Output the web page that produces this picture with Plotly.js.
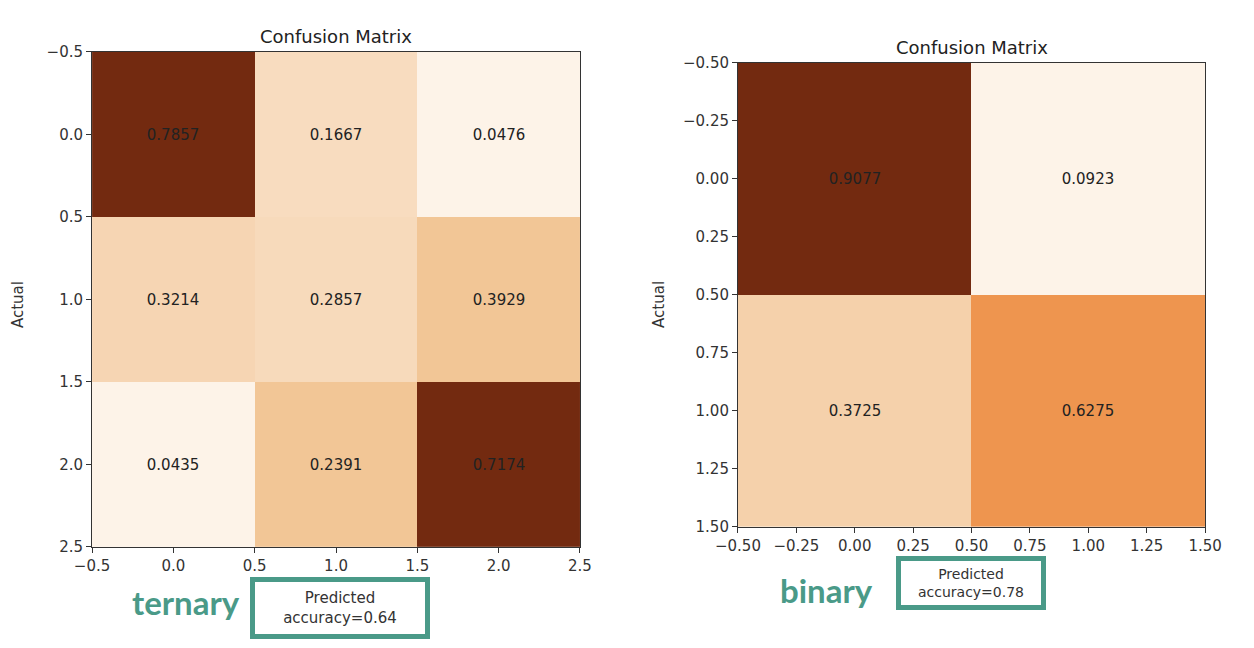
<!DOCTYPE html>
<html>
<head>
<meta charset="utf-8">
<script src="https://cdn.plot.ly/plotly-3.0.1.min.js"></script>
<style>body{margin:0;background:#fff}#chart{width:1254px;height:648px}</style>
</head>
<body>
<div id="chart"></div>
<script>
// values shown in each cell
const ternaryValues = [[0.7857, 0.1667, 0.0476], [0.3214, 0.2857, 0.3929], [0.0435, 0.2391, 0.7174]];
const binaryValues = [[0.9077, 0.0923], [0.3725, 0.6275]];
// colour level (0 = lightest, 1 = darkest)
const ternaryShade = [[1.0, 0.2, 0.0], [0.23, 0.21, 0.3], [0.0, 0.3, 1.0]];
const binaryShade = [[1.0, 0.0], [0.25, 0.6]];
const ternaryTicks = [-0.5, 0, 0.5, 1, 1.5, 2, 2.5];
const binaryTicks = [-0.5, -0.25, 0, 0.25, 0.5, 0.75, 1, 1.25, 1.5];
const accTernary = 0.64, accBinary = 0.78;

const scale = [[0, '#fdf3e8'], [0.2, '#f8dcbf'], [0.3, '#f2c696'], [0.6, '#ee954f'], [1, '#732a10']];
const TEAL = '#4a9a88';
const FONT = 'DejaVu Sans';

function cellText(vals) { return vals.map(r => r.map(v => v.toFixed(4))); }
function idx(n) { return Array.from({ length: n }, (_, i) => i); }

const traces = [
    { type: 'heatmap', x: idx(3), y: idx(3), z: ternaryShade, zmin: 0, zmax: 1,
      colorscale: scale, showscale: false, text: cellText(ternaryValues),
      texttemplate: '%{text}', textfont: { family: FONT, size: 15, color: '#222' },
      xaxis: 'x', yaxis: 'y', hoverinfo: 'text' },
    { type: 'heatmap', x: idx(2), y: idx(2), z: binaryShade, zmin: 0, zmax: 1,
      colorscale: scale, showscale: false, text: cellText(binaryValues),
      texttemplate: '%{text}', textfont: { family: FONT, size: 15, color: '#222' },
      xaxis: 'x2', yaxis: 'y2', hoverinfo: 'text' }
];

function axis(domain, range, ticks, fmt, anchor) {
    return {
        domain: domain, range: range, anchor: anchor,
        tickvals: ticks, ticktext: ticks.map(t => t.toFixed(fmt).replace('-', '\u2212')),
        ticks: 'outside', ticklen: 5, tickcolor: '#333',
        showline: true, mirror: true, linecolor: '#333', linewidth: 1,
        showgrid: false, zeroline: false,
        tickfont: { family: FONT, size: 15, color: '#333' }
    };
}

const layout = {
    width: 1254, height: 648,
    margin: { t: 0, b: 0, l: 0, r: 0 },
    paper_bgcolor: '#fff', plot_bgcolor: '#fff',
    showlegend: false,
    xaxis: axis([0.0734, 0.4625], [-0.5, 2.5], ternaryTicks, 1, 'y'),
    yaxis: axis([0.156, 0.92], [2.5, -0.5], ternaryTicks, 1, 'x'),
    xaxis2: axis([0.5885, 0.961], [-0.5, 1.5], binaryTicks, 2, 'y2'),
    yaxis2: axis([0.187, 0.903], [1.5, -0.5], binaryTicks, 2, 'x2'),
    annotations: [
        { text: 'Confusion Matrix', xref: 'paper', yref: 'paper', x: 0.268, y: 0.925,
          xanchor: 'center', yanchor: 'bottom', showarrow: false, font: { family: FONT, size: 18, color: '#222' } },
        { text: 'Confusion Matrix', xref: 'paper', yref: 'paper', x: 0.775, y: 0.908,
          xanchor: 'center', yanchor: 'bottom', showarrow: false, font: { family: FONT, size: 18, color: '#222' } },
        { text: 'Actual', xref: 'paper', yref: 'paper', x: 0.014, y: 0.53, textangle: -90,
          xanchor: 'center', showarrow: false, font: { family: FONT, size: 15, color: '#333' } },
        { text: 'Actual', xref: 'paper', yref: 'paper', x: 0.525, y: 0.53, textangle: -90,
          xanchor: 'center', showarrow: false, font: { family: FONT, size: 15, color: '#333' } },
        { text: 'Predicted<br>accuracy=' + accTernary, xref: 'paper', yref: 'paper', x: 0.271, y: 0.062,
          xanchor: 'center', yanchor: 'middle',
          showarrow: false, width: 168, height: 50, bordercolor: TEAL, borderwidth: 5, borderpad: 1,
          bgcolor: '#fff', font: { family: FONT, size: 15, color: '#333' } },
        { text: 'Predicted<br>accuracy=' + accBinary, xref: 'paper', yref: 'paper', x: 0.774, y: 0.1,
          xanchor: 'center', yanchor: 'middle',
          showarrow: false, width: 138, height: 42, bordercolor: TEAL, borderwidth: 5, borderpad: 1,
          bgcolor: '#fff', font: { family: FONT, size: 14, color: '#333' } },
        { text: '<b>ternary</b>', xref: 'paper', yref: 'paper', x: 0.148, y: 0.071,
          xanchor: 'center', yanchor: 'middle', showarrow: false, font: { family: 'Lato', size: 33, color: TEAL } },
        { text: '<b>binary</b>', xref: 'paper', yref: 'paper', x: 0.659, y: 0.09,
          xanchor: 'center', yanchor: 'middle', showarrow: false, font: { family: 'Lato', size: 33, color: TEAL } }
    ]
};

Plotly.newPlot('chart', traces, layout, { displayModeBar: false, responsive: false });
</script>
</body>
</html>
